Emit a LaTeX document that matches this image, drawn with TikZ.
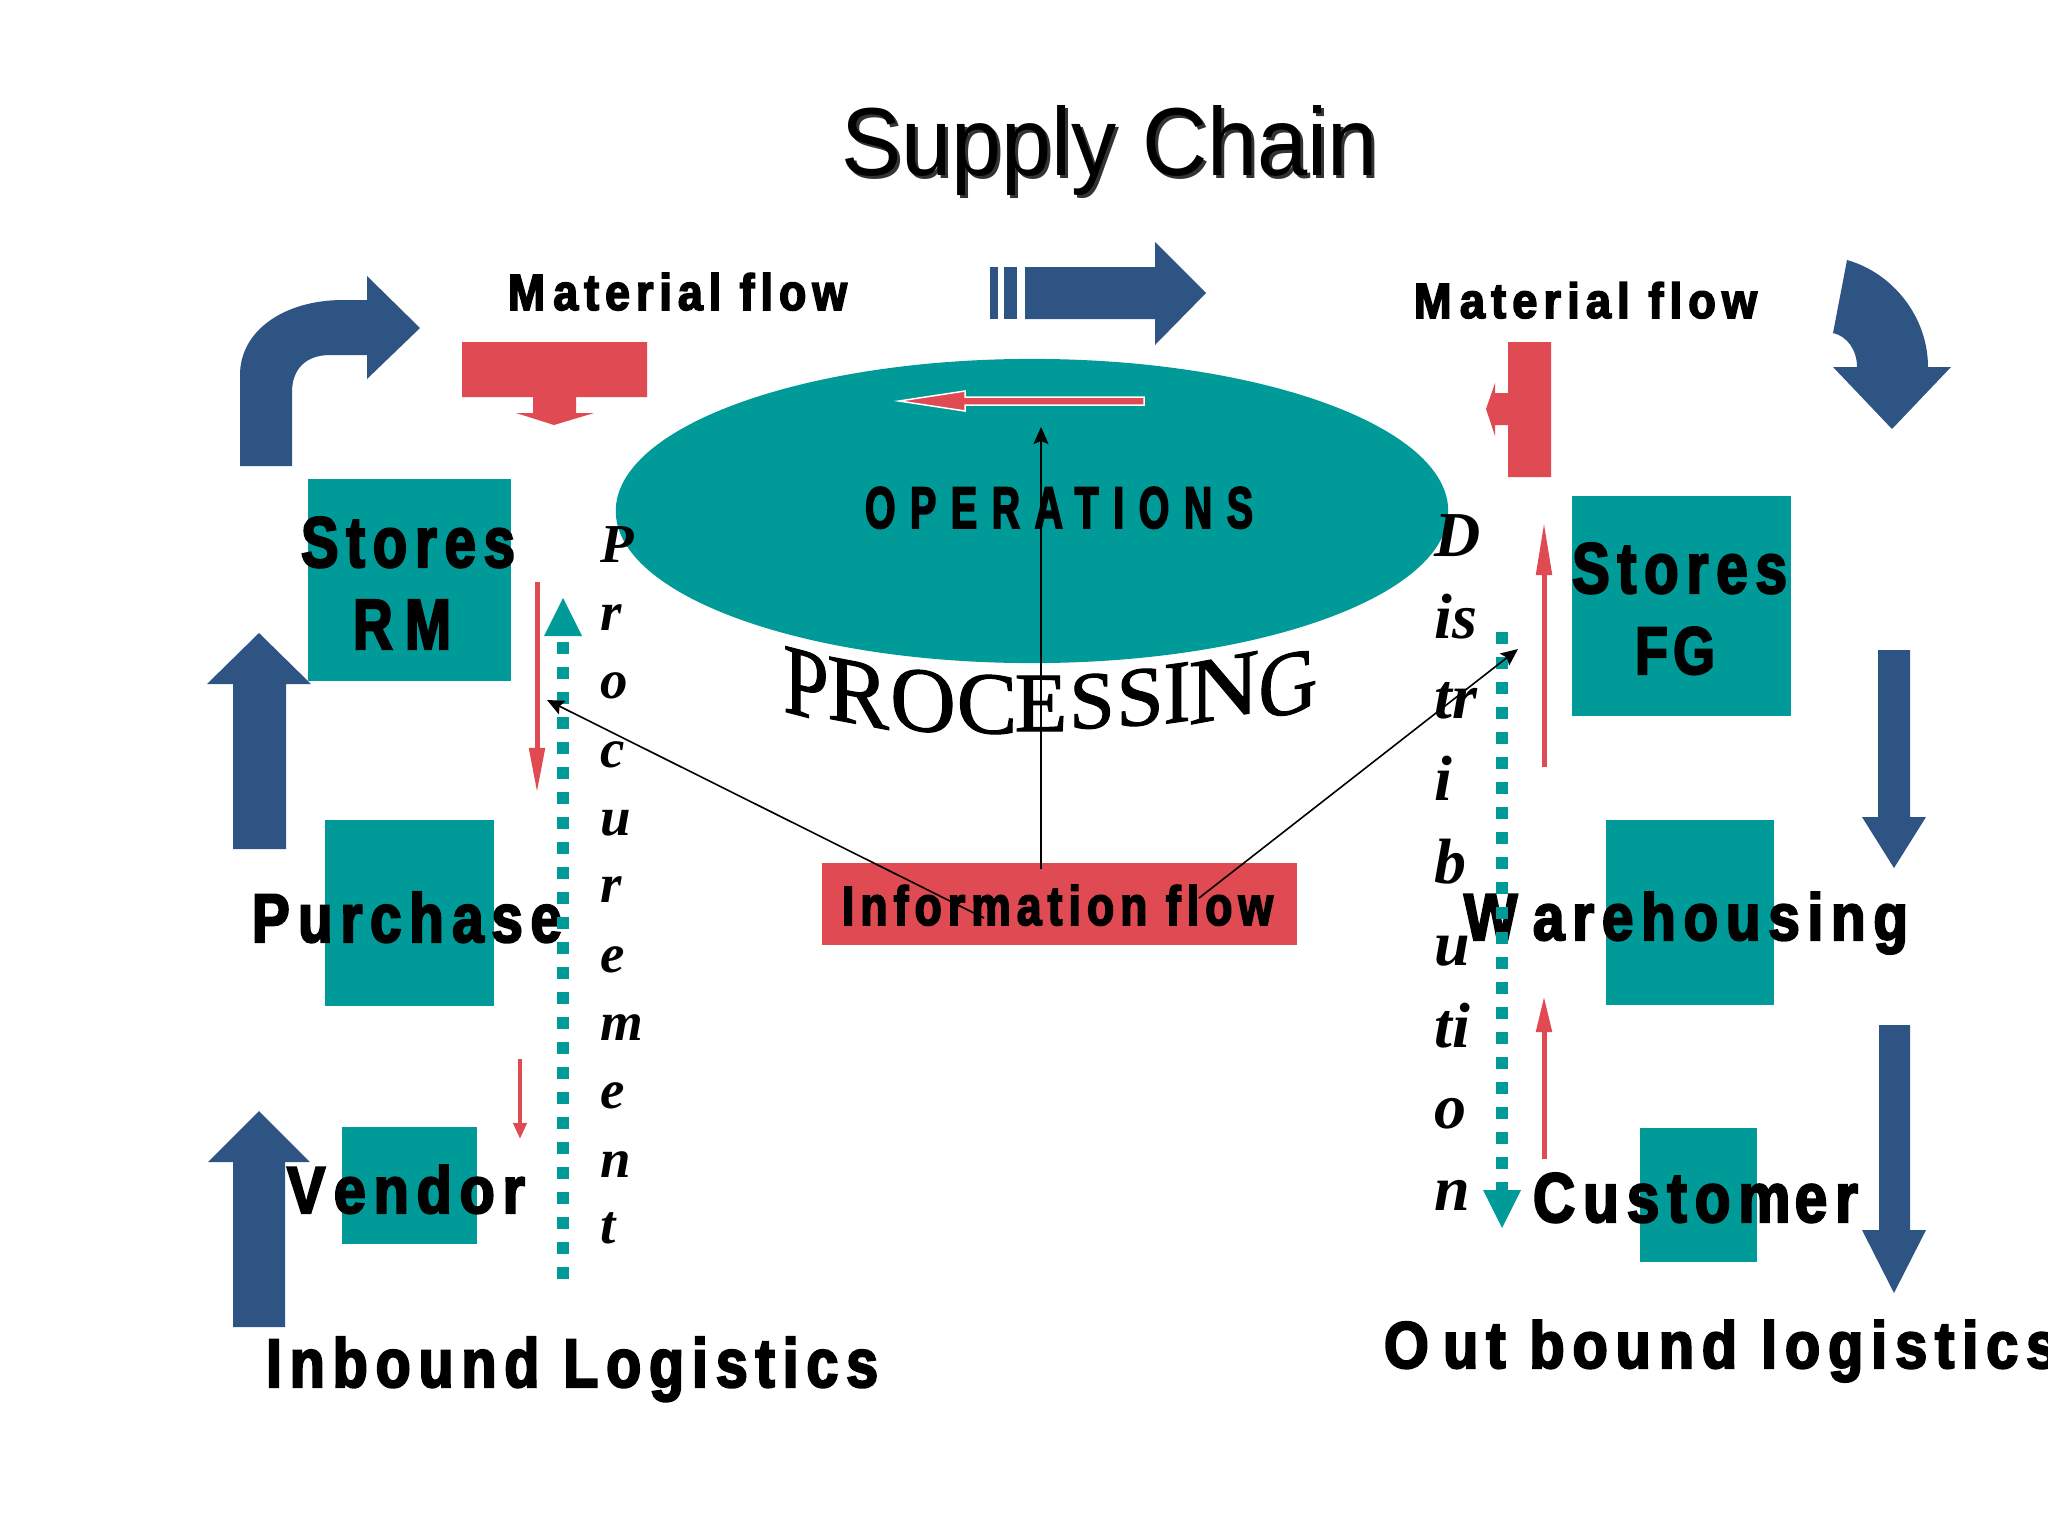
\documentclass[tikz,border=0pt]{standalone}
\usepackage{fontspec}
\usepackage{graphicx}
\usetikzlibrary{arrows.meta,shapes.geometric}
\setmainfont{Liberation Sans}
\newfontfamily\cnd[FakeStretch=0.8,LetterSpace=11,BoldFeatures={FakeBold=3}]{Liberation Sans}
\newfontfamily\cndw[FakeStretch=0.75,LetterSpace=28,BoldFeatures={FakeBold=3}]{Liberation Sans}
\newfontfamily\srf{Liberation Serif}
\newfontfamily\srfb[FakeBold=1.2]{Liberation Serif}
\newdimen\pxl \pxl=0.01cm
\newcommand\fitx[3]{\resizebox{#1\pxl}{#2\pxl}{#3}}
\definecolor{tealx}{HTML}{009A98}
\definecolor{redx}{HTML}{DF4A53}
\definecolor{bluex}{HTML}{2D5483}
\tikzset{
  tealbox/.style={rectangle, fill=tealx, draw=none, inner sep=0pt, outer sep=0pt},
  lbl/.style={anchor=base west, inner sep=0pt, outer sep=0pt},
  tealdot/.style={draw=tealx, line width=0.12cm, dash pattern=on 0.12cm off 0.13cm},
  redarr/.style={draw=redx, line width=0.05cm},
  infoarr/.style={draw=black, line width=0.016cm, -{Stealth[length=0.17cm,width=0.15cm,inset=0.03cm]}},
  ital/.style={anchor=base west, inner sep=0pt, font=\srf\bfseries\itshape\fontsize{15.6pt}{18pt}\selectfont},
  itald/.style={anchor=base west, inner sep=0pt, font=\srf\bfseries\itshape\fontsize{18.2pt}{21pt}\selectfont},
  procl/.style={anchor=base, inner sep=0pt, font=\srfb\fontsize{25.8pt}{30pt}\selectfont},
}
\begin{document}
\begin{tikzpicture}[x=0.01cm,y=-0.01cm]
\useasboundingbox (0,0) rectangle (2048,1536);
\fill[white] (0,0) rectangle (2048,1536);

% ---------- title
\node[lbl, black!80] (titleS) at (844,178) {\fitx{537}{70}{Supply Chain}};
\node[lbl] (title) at (841,175) {\fitx{537}{70}{Supply Chain}};

% ---------- ellipse and boxes
\node[ellipse, fill=tealx, draw=none, inner sep=0pt, minimum width=8.32cm, minimum height=3.04cm] (ops) at (1032,511) {};
\node[tealbox, minimum width=2.03cm, minimum height=2.02cm] (rm) at (409.5,580) {};
\node[tealbox, minimum width=2.19cm, minimum height=2.20cm] (fg) at (1681.5,606) {};
\node[tealbox, minimum width=1.69cm, minimum height=1.86cm] (pur) at (409.5,913) {};
\node[tealbox, minimum width=1.35cm, minimum height=1.17cm] (ven) at (409.5,1185.5) {};
\node[tealbox, minimum width=1.68cm, minimum height=1.85cm] (war) at (1690,912.5) {};
\node[tealbox, minimum width=1.17cm, minimum height=1.34cm] (cus) at (1698.5,1195) {};
\node[rectangle, fill=redx, draw=none, inner sep=0pt, minimum width=4.75cm, minimum height=0.82cm] (info) at (1059.5,904) {};

% ---------- blue block arrows
\fill[bluex] (240,466) -- (240,375) .. controls (240,330) and (285,300) .. (343,300)
  -- (367,300) -- (367,276) -- (420,328) -- (367,379) -- (367,355) -- (330,355)
  .. controls (305,355) and (292,370) .. (292,392) -- (292,466) -- cycle;
\fill[bluex] (990,267) rectangle (998,319);
\fill[bluex] (1004,267) rectangle (1017,319);
\fill[bluex] (1025,267) -- (1155,267) -- (1155,242) -- (1206,293) -- (1155,345) -- (1155,319) -- (1025,319) -- cycle;
\fill[bluex] (1847,260) .. controls (1893,273) and (1928,317) .. (1928,367) -- (1951,367) -- (1892,429)
  -- (1833,367) -- (1857,367) .. controls (1857,350) and (1847,336) .. (1833,333) -- cycle;
\fill[bluex] (233,849) -- (233,684) -- (207,684) -- (259,633) -- (311,684) -- (286,684) -- (286,849) -- cycle;
\fill[bluex] (233,1327) -- (233,1162) -- (208,1162) -- (259,1111) -- (310,1162) -- (285,1162) -- (285,1327) -- cycle;
\fill[bluex] (1878,650) -- (1910,650) -- (1910,817) -- (1926,817) -- (1894,868) -- (1862,817) -- (1878,817) -- cycle;
\fill[bluex] (1879,1025) -- (1910,1025) -- (1910,1230) -- (1926,1230) -- (1894,1293) -- (1862,1230) -- (1879,1230) -- cycle;

% ---------- red T arrows
\fill[redx] (462,342) -- (647,342) -- (647,397) -- (576,397) -- (576,413) -- (594,413) -- (554,425)
  -- (516,413) -- (533,413) -- (533,397) -- (462,397) -- cycle;
\fill[redx] (1508,342) -- (1551,342) -- (1551,477) -- (1508,477) -- (1508,425) -- (1495,425) -- (1495,436)
  -- (1486,409) -- (1495,383) -- (1495,393) -- (1508,393) -- cycle;

% ---------- red arrow inside ellipse
\filldraw[fill=redx, draw=white, line width=0.015cm] (1144,397) -- (965,397) -- (965,391) -- (899,401)
  -- (965,411) -- (965,405) -- (1144,405) -- cycle;

% ---------- labels
\node[lbl] (mat1) at (508,310) {\fitx{339}{37}{\cnd\bfseries M\kern0.15em aterial flow}};
\node[lbl] (mat2) at (1414,318) {\fitx{343}{36}{\cnd\bfseries M\kern0.15em aterial flow}};
\node[lbl] (opst) at (865,528) {\fitx{388}{41}{\cndw\bfseries OPERATIONS}};
\node[lbl] (rm1) at (301,567) {\fitx{214}{50}{\cnd\bfseries Stores}};
\node[lbl] (rm2) at (353,649) {\fitx{98}{49}{\cnd\bfseries R\kern0.18em M}};
\node[lbl] (fg1) at (1572,593) {\fitx{215}{50}{\cnd\bfseries Stores}};
\node[lbl] (fg2) at (1635,674) {\fitx{80}{47}{\cnd\bfseries F\kern0.08em G}};
\node[lbl] (purt) at (252,942) {\fitx{310}{50}{\cnd\bfseries P\kern0.12em urch\kern0.12em ase}};
\node[lbl] (vent) at (287,1213) {\fitx{238}{48}{\cnd\bfseries V\kern0.12em endor}};
\node[lbl] (inb) at (266,1387) {\fitx{612}{50}{\cnd\bfseries Inbound Logistics}};
\node[lbl] (wart) at (1464,940) {\fitx{444}{48}{\cnd\bfseries W\kern0.22em arehousing}};
\node[lbl] (cust) at (1533,1222) {\fitx{325}{49}{\cnd\bfseries Custom\kern0.06em er}};
\node[lbl] (outb) at (1384,1368) {\fitx{674}{48}{\cnd\bfseries O\kern0.2em ut bound logistics}};
\node[lbl] (inft) at (842,925) {\fitx{431}{40}{\cnd\bfseries Information flow}};

% PROCESSING (arched, vertically sheared letters)
\foreach \l/\xx/\yy/\sl/\xs/\ys [count=\i] in {
  P/806/717/-0.26/0.90/1.10, R/858/724/-0.19/1.02/1.04, O/923/731/-0.12/1.0/1.01, C/987/733/-0.05/1.0/0.97,
  E/1041/731/0/0.95/0.93, S/1092/728/0.05/0.90/0.90, S/1140/725/0.10/0.94/0.93, I/1177/722/0.14/0.90/0.98,
  N/1224/718/0.19/1.08/1.02, G/1288/714/0.25/0.90/1.0}
  \node[procl, yslant=\sl] (pg\i) at (\xx,\yy) {\scalebox{\xs}[\ys]{\l}};

% Procurement / Distribution
\foreach \l/\yy [count=\i] in {P/562,r/630,o/698,c/767,u/835,r/902,e/972,m/1040,e/1108,n/1177,t/1243}
  \node[ital] (pc\i) at (600,\yy) {\l};
\foreach \l/\yy [count=\i] in {D/556,is/638,tr/718,i/800,b/883,u/965,ti/1047,o/1128,n/1210}
  \node[itald] (ds\i) at (1434,\yy) {\l};

% ---------- dotted teal lines
\coordinate (pdB) at (563,1279);
\coordinate (pdT) at (563,638);
\draw[tealdot] (pdB) -- (pdT);
\fill[tealx] (544,636) -- (563,598) -- (582,636) -- cycle;
\coordinate (ddT) at (1502,632);
\coordinate (ddB) at (1502,1190);
\draw[tealdot] (ddT) -- (ddB);
\fill[tealx] (1483,1190) -- (1521,1190) -- (1502,1228) -- cycle;

% ---------- thin red arrows
\draw[redarr, -{Triangle[length=0.45cm,width=0.15cm]}] (537,582) -- (537,793);
\draw[redarr, line width=0.04cm, -{Triangle[length=0.16cm,width=0.13cm]}] (520,1059) -- (520,1139);
\draw[redarr, -{Triangle[length=0.53cm,width=0.15cm]}] (1544,767) -- (1544,522);
\draw[redarr, -{Triangle[length=0.36cm,width=0.15cm]}] (1544,1159) -- (1544,996);

% ---------- information flow connectors
\coordinate (opsTip) at (1041,427);
\coordinate (infoM) at (1041,869);
\coordinate (infoL) at (984,918);
\coordinate (infoR) at (1199,898);
\coordinate (procTip) at (547,700);
\coordinate (distTip) at (1518,649);
\draw[infoarr] (infoM) -- (opsTip);
\draw[infoarr] (infoL) -- (procTip);
\draw[infoarr] (infoR) -- (distTip);
\end{tikzpicture}
\end{document}
